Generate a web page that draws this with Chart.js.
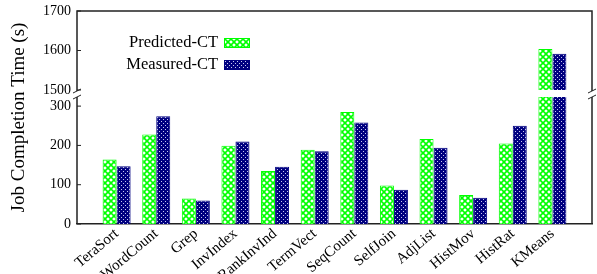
<!DOCTYPE html>
<html>
<head>
<meta charset="utf-8">
<script src="https://cdn.jsdelivr.net/npm/chart.js@4.4.1/dist/chart.umd.min.js"></script>
<style>
  html, body { margin: 0; padding: 0; background: #fff; }
  canvas { display: block; }
</style>
</head>
<body>
<canvas id="chart" width="597" height="274"></canvas>
<script>
// job names, in plot order
const categories = ["TeraSort", "WordCount", "Grep", "InvIndex", "RankInvInd", "TermVect",
  "SeqCount", "SelfJoin", "AdjList", "HistMov", "HistRat", "KMeans"];

// completion times (s)
const predicted = [164, 228, 65, 199, 135, 189, 285, 98, 216, 74, 205, 1604];
const measured  = [147, 274, 60, 210, 146, 185, 258, 87, 194, 67, 250, 1592];

const seriesNames = ["Predicted-CT", "Measured-CT"];

// broken y axis: lower part and upper part
const lowTicks = [0, 100, 200, 300];
const highTicks = [1500, 1600, 1700];

const serif = "'Liberation Serif', 'DejaVu Serif', serif";

// fill patterns like the gnuplot ones
function makePattern(draw, w, h) {
  const c = document.createElement("canvas");
  c.width = w; c.height = h;
  draw(c.getContext("2d"));
  return c.getContext("2d").createPattern(c, "repeat");
}

const greenHatch = makePattern(ctx => {
  ctx.fillStyle = "#fff";
  ctx.fillRect(0, 0, 6, 6);
  ctx.strokeStyle = "#00ff00";
  ctx.lineWidth = 1.6;
  ctx.beginPath();
  ctx.moveTo(-1, -1); ctx.lineTo(7, 7);
  ctx.moveTo(7, -1); ctx.lineTo(-1, 7);
  ctx.stroke();
}, 6, 6);

const navyDots = makePattern(ctx => {
  ctx.fillStyle = "#000080";
  ctx.fillRect(0, 0, 4, 4);
  ctx.fillStyle = "#c8c8f0";
  ctx.fillRect(1, 1, 1, 1);
  ctx.fillRect(3, 3, 1, 1);
}, 4, 4);

const fills = [greenHatch, navyDots];
const borders = ["#00ff00", "#000080"];

function points(values) {
  return values.map((v, i) => ({ x: i + 1, y: v }));
}

const datasets = [];
[predicted, measured].forEach((vals, k) => {
  ["yLow", "yHigh"].forEach(axis => {
    datasets.push({
      label: seriesNames[k],
      data: points(vals),
      yAxisID: axis,
      stack: "s" + k,
      backgroundColor: fills[k],
      borderColor: borders[k],
      borderWidth: 1,
      categoryPercentage: 0.707,
      barPercentage: 1.0
    });
  });
});

// keep each dataset inside its own panel
const panelClip = {
  id: "panelClip",
  beforeDatasetDraw(chart, args) {
    const s = chart.scales[args.meta.yAxisID];
    const area = chart.chartArea;
    const top = s.id === "yLow" ? s.top + 7 : s.top;
    const ctx = chart.ctx;
    ctx.save();
    ctx.beginPath();
    ctx.rect(area.left, top, area.right - area.left, s.bottom - top);
    ctx.clip();
  },
  afterDatasetDraw(chart) {
    chart.ctx.restore();
  }
};

// frame with break marks, y title, legend
const decorations = {
  id: "decorations",
  afterDraw(chart) {
    const ctx = chart.ctx;
    const a = chart.chartArea;
    const hi = chart.scales.yHigh;
    const lo = chart.scales.yLow;
    const gapTop = hi.bottom + 1, gapBot = lo.top + 7;

    ctx.save();
    ctx.strokeStyle = "#222";
    ctx.lineWidth = 1.5;
    ctx.beginPath();
    ctx.moveTo(a.left, gapTop); ctx.lineTo(a.left, a.top);
    ctx.lineTo(a.right, a.top); ctx.lineTo(a.right, gapTop);
    ctx.moveTo(a.left, gapBot); ctx.lineTo(a.left, a.bottom);
    ctx.moveTo(a.right, gapBot); ctx.lineTo(a.right, a.bottom);
    ctx.stroke();

    // break marks
    ctx.lineWidth = 1;
    ctx.beginPath();
    [a.left, a.right].forEach(x => {
      ctx.moveTo(x - 4, gapTop + 2); ctx.lineTo(x + 4, gapTop - 2);
      ctx.moveTo(x - 4, gapBot + 2); ctx.lineTo(x + 4, gapBot - 2);
    });
    ctx.stroke();

    // inner ticks on the left axis
    ctx.beginPath();
    [[hi, highTicks], [lo, lowTicks]].forEach(([s, t]) => {
      t.forEach(v => {
        const y = s.getPixelForValue(v);
        ctx.moveTo(a.left, y); ctx.lineTo(a.left + 4, y);
      });
    });
    ctx.stroke();

    // y title across both panels
    ctx.fillStyle = "#000";
    ctx.font = "19px " + serif;
    ctx.textAlign = "center";
    ctx.textBaseline = "middle";
    ctx.translate(19, (a.top + a.bottom) / 2);
    ctx.rotate(-Math.PI / 2);
    ctx.fillText("Job Completion Time (s)", 0, 0);
    ctx.restore();

    // legend inside the upper panel
    ctx.save();
    ctx.font = "16.5px " + serif;
    ctx.textAlign = "right";
    ctx.textBaseline = "middle";
    ctx.fillStyle = "#000";
    const rows = [43, 65];
    seriesNames.forEach((name, k) => {
      const y = rows[k];
      ctx.fillText(name, 218, y);
      ctx.fillStyle = fills[k];
      ctx.fillRect(224, y - 5, 26, 10);
      ctx.strokeStyle = borders[k];
      ctx.lineWidth = 1;
      ctx.strokeRect(224.5, y - 4.5, 25, 9);
      ctx.fillStyle = "#000";
    });
    ctx.restore();
  }
};

const yTickFont = { family: serif, size: 14 };

function fitY(s) {
  s.width = 77;
  s.paddingTop = 0;
  s.paddingBottom = 0;
}

new Chart(document.getElementById("chart"), {
  type: "bar",
  data: { datasets },
  options: {
    responsive: false,
    animation: false,
    layout: { padding: { top: 11, right: 5, left: 0, bottom: 0 } },
    plugins: {
      legend: { display: false },
      tooltip: { enabled: false }
    },
    scales: {
      x: {
        type: "linear",
        offset: false,
        min: 0,
        max: categories.length + 1,
        grid: { display: false, drawTicks: false },
        border: { display: true, color: "#222", width: 1.5 },
        ticks: {
          stepSize: 1,
          autoSkip: false,
          minRotation: 40,
          maxRotation: 40,
          padding: 1,
          color: "#000",
          font: { family: serif, size: 15 },
          callback: v => categories[v - 1] || ""
        },
        afterFit: s => {
          s.height = 50;
          s.paddingLeft = 0;
          s.paddingRight = 0;
        }
      },
      yLow: {
        type: "linear",
        position: "left",
        stack: "v",
        stackWeight: 134,
        min: 0,
        max: 341,
        grid: { display: false, drawTicks: false },
        border: { display: false },
        ticks: {
          stepSize: 100,
          includeBounds: false,
          padding: 6,
          color: "#000",
          font: yTickFont,
          callback: v => String(v)
        },
        afterFit: fitY
      },
      yHigh: {
        type: "linear",
        position: "left",
        stack: "v",
        stackWeight: 79,
        min: 1500,
        max: 1700,
        grid: { display: false, drawTicks: false },
        border: { display: false },
        ticks: {
          stepSize: 100,
          padding: 6,
          color: "#000",
          font: yTickFont,
          callback: v => String(v)
        },
        afterFit: fitY
      }
    }
  },
  plugins: [panelClip, decorations]
});
</script>
</body>
</html>
